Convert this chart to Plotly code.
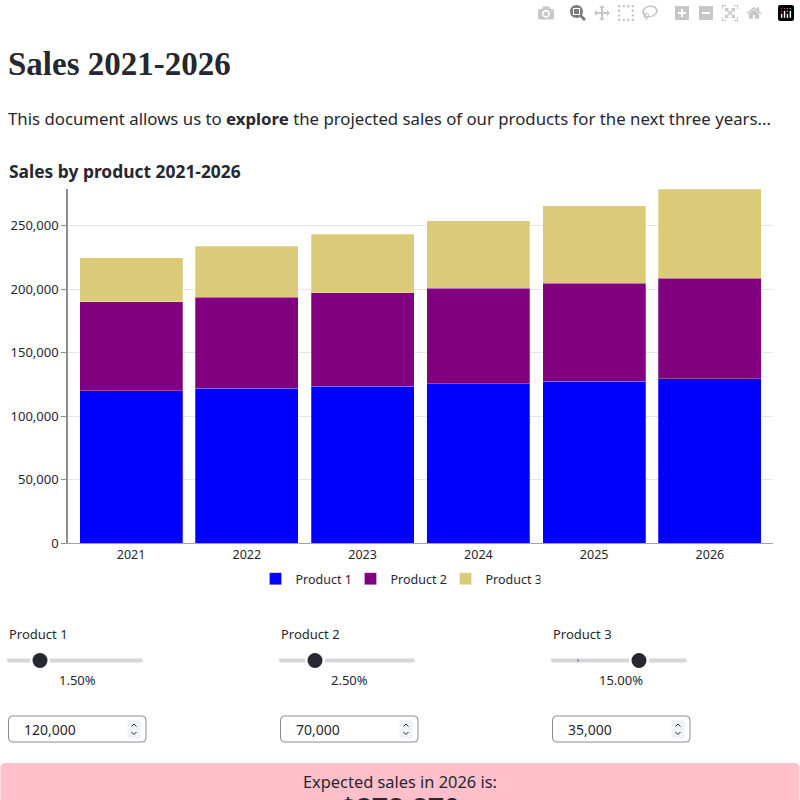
import plotly.graph_objects as go

W, H = 800, 800

# ---- data ----
years = ["2021", "2022", "2023", "2024", "2025", "2026"]
product1 = [120000, 121800, 123627, 125481, 127364, 129274]
product2 = [70000, 71750, 73544, 75382, 77267, 79199]
product3 = [35000, 40250, 46288, 53231, 61216, 70397]
series_names = ["Product 1", "Product 2", "Product 3"]
series_colors = ["#0000FF", "#800080", "#DBCB79"]
growth_labels = ["1.50%", "2.50%", "15.00%"]
start_labels = ["120,000", "70,000", "35,000"]
total_label = "$278,870"

TEXT = "#262730"
BODY_FONT = "Noto Sans"


def px(x):
    return x / W


def py(y):
    return 1 - y / H


def rrect(x0, y0, x1, y1, r):
    pts = (
        f"M {px(x0 + r)},{py(y0)} L {px(x1 - r)},{py(y0)} "
        f"Q {px(x1)},{py(y0)} {px(x1)},{py(y0 + r)} "
        f"L {px(x1)},{py(y1 - r)} Q {px(x1)},{py(y1)} {px(x1 - r)},{py(y1)} "
        f"L {px(x0 + r)},{py(y1)} Q {px(x0)},{py(y1)} {px(x0)},{py(y1 - r)} "
        f"L {px(x0)},{py(y0 + r)} Q {px(x0)},{py(y0)} {px(x0 + r)},{py(y0)} Z"
    )
    return pts


fig = go.Figure()
for name, vals, col in zip(series_names, [product1, product2, product3], series_colors):
    fig.add_trace(go.Bar(
        x=years, y=vals, name=name,
        marker=dict(color=col, line=dict(color="rgba(255,255,255,0.5)", width=0.5)),
    ))

shapes = []
annotations = []

# headings
annotations.append(dict(text="<b>Sales 2021-2026</b>", x=px(6), y=py(64), xref="paper", yref="paper",
                        xanchor="left", yanchor="middle", showarrow=False,
                        font=dict(family="Liberation Serif", size=33, color=TEXT)))
annotations.append(dict(text="This document allows us to <b>explore</b> the projected sales of our products for the next three years...",
                        x=px(6), y=py(119), xref="paper", yref="paper",
                        xanchor="left", yanchor="middle", showarrow=False,
                        font=dict(family=BODY_FONT, size=16.8, color=TEXT)))
annotations.append(dict(text="<b>Sales by product 2021-2026</b>", x=px(7), y=py(171), xref="paper", yref="paper",
                        xanchor="left", yanchor="middle", showarrow=False,
                        font=dict(family=BODY_FONT, size=17.4, color=TEXT)))

# widgets
col_x = [7, 279, 551]
knob_x = [40, 315, 639]
for i in range(3):
    x0 = col_x[i]
    annotations.append(dict(text=series_names[i], x=px(x0), y=py(634), xref="paper", yref="paper",
                            xanchor="left", yanchor="middle", showarrow=False,
                            font=dict(family=BODY_FONT, size=13, color=TEXT)))
    # track
    shapes.append(dict(type="path", path=rrect(x0, 658.5, x0 + 136, 662.5, 2), xref="paper", yref="paper",
                       fillcolor="#D5D5DA", line=dict(width=0), layer="above"))
    if i == 2:
        shapes.append(dict(type="rect", x0=px(577), x1=px(579), y0=py(659.5), y1=py(661.5), xref="paper", yref="paper",
                           fillcolor="#888891", line=dict(width=0), layer="above"))
    kx = knob_x[i]
    shapes.append(dict(type="circle", x0=px(kx - 10), x1=px(kx + 10), y0=py(670.5), y1=py(650.5),
                       xref="paper", yref="paper", fillcolor="white", line=dict(width=0), layer="above"))
    shapes.append(dict(type="circle", x0=px(kx - 7.5), x1=px(kx + 7.5), y0=py(668), y1=py(653),
                       xref="paper", yref="paper", fillcolor=TEXT, line=dict(width=0), layer="above"))
    annotations.append(dict(text=growth_labels[i], x=px(x0 + 70), y=py(680), xref="paper", yref="paper",
                            xanchor="center", yanchor="middle", showarrow=False,
                            font=dict(family=BODY_FONT, size=13, color=TEXT)))
    # number input
    bx0 = x0 + 1.5
    shapes.append(dict(type="path", path=rrect(bx0, 716, bx0 + 137.5, 742, 4), xref="paper", yref="paper",
                       fillcolor="white", line=dict(color="#8A8A96", width=1), layer="above"))
    shapes.append(dict(type="path", path=rrect(bx0 + 119, 720, bx0 + 132, 738.5, 2), xref="paper", yref="paper",
                       fillcolor="#F0F2F6", line=dict(width=0), layer="above"))
    cx = bx0 + 125.5
    shapes.append(dict(type="path", path=f"M {px(cx - 2.5)},{py(726.5)} L {px(cx)},{py(724)} L {px(cx + 2.5)},{py(726.5)}",
                       xref="paper", yref="paper", line=dict(color=TEXT, width=1), layer="above"))
    shapes.append(dict(type="path", path=f"M {px(cx - 2.5)},{py(732)} L {px(cx)},{py(734.5)} L {px(cx + 2.5)},{py(732)}",
                       xref="paper", yref="paper", line=dict(color=TEXT, width=1), layer="above"))
    annotations.append(dict(text=start_labels[i], x=px(bx0 + 13), y=py(729), xref="paper", yref="paper",
                            xanchor="left", yanchor="middle", showarrow=False,
                            font=dict(family=BODY_FONT, size=14, color=TEXT)))

# result box
shapes.append(dict(type="path", path=rrect(0.5, 763, 799.5, 810, 5), xref="paper", yref="paper",
                   fillcolor="#FFC0CB", line=dict(width=0), layer="above"))
annotations.append(dict(text="Expected sales in 2026 is:", x=0.5, y=py(781), xref="paper", yref="paper",
                        xanchor="center", yanchor="middle", showarrow=False,
                        font=dict(family=BODY_FONT, size=16.4, color=TEXT)))
annotations.append(dict(text="<b>" + total_label + "</b>", x=0.5, y=py(808), xref="paper", yref="paper",
                        xanchor="center", yanchor="middle", showarrow=False,
                        font=dict(family=BODY_FONT, size=28, color=TEXT)))

fig.update_layout(
    width=W, height=H, autosize=False,
    margin=dict(l=0, r=0, t=0, b=0, autoexpand=False),
    paper_bgcolor="white", plot_bgcolor="white",
    barmode="stack", bargap=0.11,
    font=dict(family=BODY_FONT, size=12, color=TEXT),
    showlegend=True,
    legend=dict(orientation="h", x=px(398), xanchor="center", y=py(579), yanchor="middle",
                traceorder="normal", entrywidth=50, entrywidthmode="pixels",
                font=dict(size=12.5, color=TEXT), bgcolor="rgba(0,0,0,0)"),
    xaxis=dict(domain=[px(68), px(773)], showline=True, linecolor="#A3A3AD", linewidth=1,
               range=[-0.545, 5.545], automargin=False,
               ticks="", tickfont=dict(size=12.5, color=TEXT), showgrid=False, type="category"),
    yaxis=dict(domain=[py(543), py(189)], showline=True, linecolor="#8E8E99", linewidth=1.5,
               automargin=False,
               ticks="outside", ticklen=5, tickcolor="#8E8E99", tickformat=",",
               showgrid=True, gridcolor="#E6E6E6", gridwidth=1, zeroline=False,
               range=[0, 279000], dtick=50000, tickfont=dict(size=13, color=TEXT)),
    shapes=shapes, annotations=annotations,
)

js = ("document.body.style.margin='0';document.body.style.overflow='hidden';"
      "document.documentElement.style.overflow='hidden';"
      "var g=document.querySelector('.plotly-graph-div');"
      "g.style.overflow='hidden';")
fig.write_html("out.html", post_script=js)
